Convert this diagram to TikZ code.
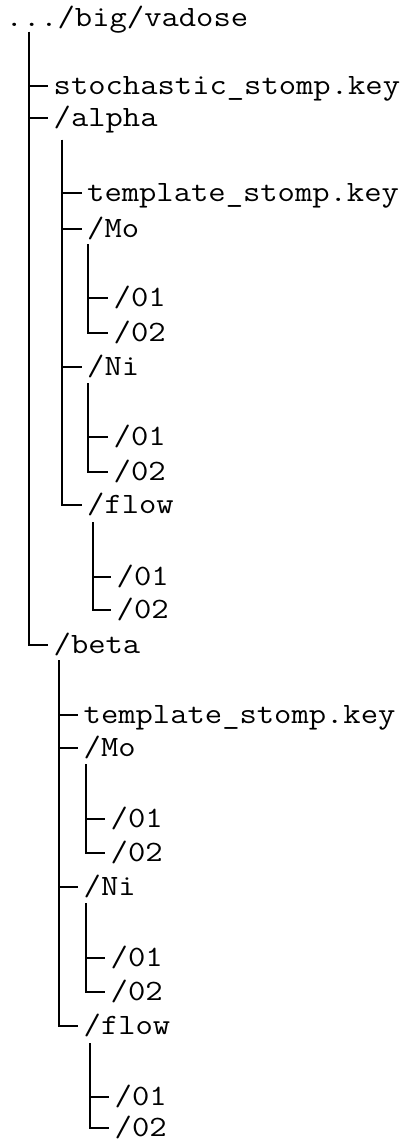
\documentclass[tikz,border=0pt]{standalone}
\usepackage{fontspec}
\newfontfamily\treefont[FakeStretch=1.14]{Latin Modern Mono}
\begin{document}
\begin{tikzpicture}[x=1pt,y=-1pt,
  entry/.style={anchor=west, inner xsep=5.5pt, inner ysep=0pt,
    text height=22pt, text depth=5pt,
    font=\fontsize{29.5}{30}\selectfont\treefont},
  branch/.style={line width=2pt, line join=miter}]
\useasboundingbox (0,0) rectangle (411,1142);

% root
\node[entry] (root) at (0,18) {.../big/vadose};
\coordinate (root-t) at (28.5,32);
\node[entry] (stoch) at (48,86.5) {stochastic\_stomp.key};
\node[entry] (alpha) at (48,118.5) {/alpha};
\node[entry] (beta)  at (48,645) {/beta};
\foreach \c in {stoch,alpha,beta} \draw[branch] (root-t) |- (\c.west);

% alpha
\coordinate (alpha-t) at (62,140);
\node[entry] (a-tpl)  at (81.5,192.5) {template\_stomp.key};
\node[entry] (a-mo)   at (81.5,228.5) {/Mo};
\node[entry] (a-ni)   at (81.5,367) {/Ni};
\node[entry] (a-flow) at (81.5,505) {/flow};
\foreach \c in {a-tpl,a-mo,a-ni,a-flow} \draw[branch] (alpha-t) |- (\c.west);

\coordinate (a-mo-t) at (88,244);
\node[entry] (a-mo-1) at (108,298) {/01};
\node[entry] (a-mo-2) at (108,333) {/02};
\coordinate (a-ni-t) at (88,383);
\node[entry] (a-ni-1) at (108,437) {/01};
\node[entry] (a-ni-2) at (108,472) {/02};
\coordinate (a-flow-t) at (93,522);
\node[entry] (a-flow-1) at (111,577) {/01};
\node[entry] (a-flow-2) at (111,610) {/02};
\foreach \p in {a-mo,a-ni,a-flow}
  \foreach \n in {1,2} \draw[branch] (\p-t) |- (\p-\n.west);

% beta
\coordinate (beta-t) at (59,660);
\node[entry] (b-tpl)  at (78,715) {template\_stomp.key};
\node[entry] (b-mo)   at (78,748) {/Mo};
\node[entry] (b-ni)   at (78,887) {/Ni};
\node[entry] (b-flow) at (78,1026) {/flow};
\foreach \c in {b-tpl,b-mo,b-ni,b-flow} \draw[branch] (beta-t) |- (\c.west);

\coordinate (b-mo-t) at (86,764);
\node[entry] (b-mo-1) at (105,819) {/01};
\node[entry] (b-mo-2) at (105,853) {/02};
\coordinate (b-ni-t) at (86,903);
\node[entry] (b-ni-1) at (105,958) {/01};
\node[entry] (b-ni-2) at (105,992) {/02};
\coordinate (b-flow-t) at (90,1043);
\node[entry] (b-flow-1) at (109,1097) {/01};
\node[entry] (b-flow-2) at (109,1128) {/02};
\foreach \p in {b-mo,b-ni,b-flow}
  \foreach \n in {1,2} \draw[branch] (\p-t) |- (\p-\n.west);
\end{tikzpicture}
\end{document}
